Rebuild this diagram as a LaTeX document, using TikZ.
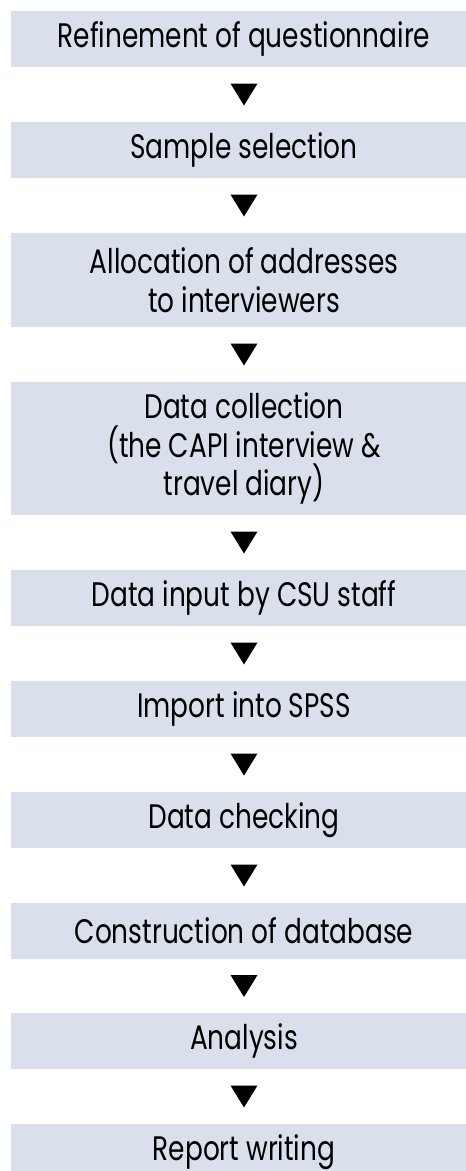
\documentclass[tikz,border=0pt]{standalone}
\usepackage{fontspec}
\setmainfont[FakeStretch=0.776]{Poppins}
\usetikzlibrary{calc}
\definecolor{boxfill}{RGB}{217,224,235}
\tikzset{
  stepbox/.style={fill=boxfill, draw=none, minimum width=466pt, inner sep=0pt, align=center,
    font=\fontsize{34}{38.5}\selectfont, text=black},
  h1/.style={minimum height=56pt},
  h2/.style={minimum height=94pt},
  h3/.style={minimum height=133pt},
}
\begin{document}
\begin{tikzpicture}[x=1pt,y=-1pt]
\useasboundingbox (0,0) rectangle (466,1171);
\node[stepbox,h1] (b1) at (244,39) {Refinement of questionnaire};
\node[stepbox,h1] (b2) at (244,150) {Sample selection};
\node[stepbox,h2] (b3) at (244,280) {Allocation of addresses\\to interviewers};
\node[stepbox,h3] (b4) at (244,448.5) {Data collection\\(the CAPI interview \&\\travel diary)};
\node[stepbox,h1] (b5) at (244,598) {Data input by CSU staff};
\node[stepbox,h1] (b6) at (244,709) {Import into SPSS};
\node[stepbox,h1] (b7) at (244,820) {Data checking};
\node[stepbox,h1] (b8) at (244,931) {Construction of database};
\node[stepbox,h1] (b9) at (244,1041) {Analysis};
\node[stepbox,h1] (b10) at (244,1152) {Report writing};
\foreach \a/\b in {b1/b2,b2/b3,b3/b4,b4/b5,b5/b6,b6/b7,b7/b8,b8/b9,b9/b10}{
  \coordinate (m-\a) at ($(\a.south)!0.5!(\b.north)$);
  \fill[black] ($(m-\a)+(-13.5,-11)$) -- ($(m-\a)+(13.5,-11)$) -- ($(m-\a)+(0,11)$) -- cycle;
}
\end{tikzpicture}
\end{document}
